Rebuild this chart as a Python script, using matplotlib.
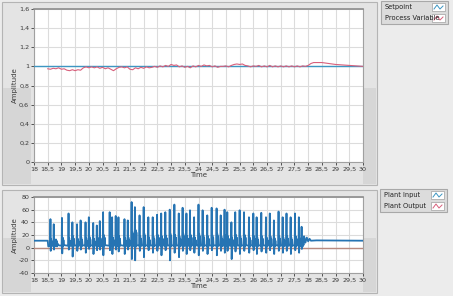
import numpy as np
import matplotlib.pyplot as plt
from matplotlib.patches import Rectangle
from matplotlib.lines import Line2D

W, H = 453, 296

# ---- data ----
setpoint_t = [18.0, 30.0]
setpoint_v = [1.0, 1.0]

pv_t = list(np.round(np.arange(18.5, 28.05, 0.1), 2)) + [28.1, 28.2, 28.5, 29.0, 29.5, 30.0]
pv_v = [0.975, 0.97, 0.98, 0.975, 0.985, 0.97, 0.975, 0.96, 0.955, 0.965,
        0.955, 0.965, 0.96, 0.985, 0.995, 0.985, 0.995, 0.985, 0.995, 0.98,
        0.99, 0.975, 0.985, 0.97, 0.955, 0.975, 0.99, 0.995, 0.985, 0.995,
        0.97, 0.965, 0.985, 0.975, 0.99, 0.98, 0.995, 0.985, 0.99, 1.0,
        0.99, 1.005, 0.995, 1.01, 1.0, 1.02, 1.01, 1.015, 0.995, 1.005,
        0.99, 1.0, 0.985, 1.005, 0.995, 1.01, 1.0, 1.015, 1.005, 1.01,
        0.995, 1.005, 0.99, 1.0, 1.0, 1.005, 0.995, 1.01, 1.02, 1.025,
        1.02, 1.025, 1.01, 1.005, 0.995, 1.005, 1.0, 1.01, 0.995, 1.005,
        0.995, 1.01, 0.995, 1.005, 0.995, 1.005, 0.995, 1.005, 0.995, 1.005,
        0.995, 1.005, 0.995, 1.005, 1.0, 1.01,
        1.03, 1.04, 1.04, 1.02, 1.01, 1.0]

# plant input spikes: time, peak, trough, ringing level
spk_t = [18.60, 18.72, 18.80, 19.02, 19.26, 19.40, 19.57, 19.70, 19.88, 20.00,
         20.16, 20.29, 20.40, 20.52, 20.76, 20.85, 20.98, 21.08, 21.30, 21.42,
         21.56, 21.68, 21.85, 22.00, 22.17, 22.33, 22.49, 22.64, 22.79, 22.95,
         23.12, 23.28, 23.42, 23.56, 23.69, 23.84, 24.00, 24.15, 24.32, 24.48,
         24.66, 24.81, 24.95, 25.05, 25.20, 25.34, 25.50, 25.66, 25.84, 26.00,
         26.12, 26.29, 26.46, 26.60, 26.75, 26.92, 27.07, 27.21, 27.36, 27.52,
         27.66, 27.76]
spk_hi = [45, 37, 13, 47, 54, 40, 37, 43, 40, 48,
          39, 35, 42, 56, 56, 48, 50, 48, 45, 43,
          72, 64, 51, 64, 48, 48, 52, 54, 56, 60,
          68, 54, 63, 54, 59, 48, 68, 59, 51, 63,
          62, 51, 60, 56, 40, 56, 59, 56, 48, 54,
          48, 55, 48, 54, 43, 57, 48, 54, 48, 54,
          48, 33]
spk_lo = [-5, -3, 5, -9, -3, -14, -5, -3, -8, -2,
          -10, -4, -3, -12, -4, -10, -3, -6, -10, -3,
          -18, -20, -5, -15, -4, -8, -5, -12, -4, -20,
          -8, -15, -5, -10, -4, -8, -12, -5, -10, -4,
          -12, -5, -8, -5, -18, -6, -10, -5, -8, -4,
          -10, -6, -8, -4, -10, -5, -8, -5, -10, -4,
          -8, -2]
spk_ring = [14, 12, 11, 16, 15, 18, 14, 16, 15, 17,
            14, 16, 15, 20, 18, 16, 17, 18, 15, 16,
            25, 28, 18, 22, 16, 18, 20, 18, 19, 22,
            20, 18, 22, 18, 20, 16, 22, 20, 18, 20,
            22, 18, 20, 18, 16, 20, 18, 20, 16, 18,
            16, 18, 16, 18, 15, 18, 16, 18, 16, 18,
            15, 14]
settle_t = [27.85, 27.90, 27.95, 28.00, 28.05, 28.10, 28.3, 30.0]
settle_v = [18, 8, 16, 10, 14, 11, 11.5, 11]

plant_out_t = [18.0, 30.0]
plant_out_v = [0.0, 0.0]

# build plant input polyline from the spike table
pin_t = [18.0, 18.5, 18.52]
pin_v = [11, 11, 2]
for t, hi, lo, rg in zip(spk_t, spk_hi, spk_lo, spk_ring):
    pin_t += [t - 0.012, t, t + 0.01, t + 0.025, t + 0.04, t + 0.055, t + 0.07]
    pin_v += [3, hi, lo, rg, 2, rg - 4, 4]
pin_t += settle_t
pin_v += settle_v


def comma(v):
    s = ('%g' % v).replace('.', ',')
    return s


fig = plt.figure(figsize=(W / 100, H / 100), dpi=100)
fig.patch.set_facecolor('#ececec')


def frect(x, y, w, h, fc, ec='none', lw=0.8, z=0):
    r = Rectangle((x / W, 1 - (y + h) / H), w / W, h / H, transform=fig.transFigure,
                  facecolor=fc, edgecolor=ec, linewidth=lw, zorder=z)
    fig.add_artist(r)


# panels
frect(2, 2, 375, 183, '#e4e4e4', '#b4b4b4')
frect(3, 88, 28, 96, '#d6d6d6')
frect(363, 88, 13, 96, '#d6d6d6')
frect(2, 190, 375, 103, '#e4e4e4', '#b4b4b4')
frect(3, 238, 28, 54, '#d6d6d6')
frect(363, 238, 13, 54, '#d6d6d6')

xt = np.arange(18, 30.01, 0.5)
grid_c = '#dcdcdc'
txt_c = '#3a3a3a'


def style(ax, yt, ylim):
    ax.set_xlim(18, 30)
    ax.set_ylim(*ylim)
    ax.set_xticks(xt)
    ax.set_xticklabels([comma(v) for v in xt])
    ax.set_yticks(yt)
    ax.set_yticklabels([comma(round(v, 1)) for v in yt])
    ax.grid(True, color=grid_c, linewidth=0.8)
    ax.set_axisbelow(True)
    ax.tick_params(labelsize=4.6, colors=txt_c, length=2, width=0.6, pad=1.5)
    for s in ax.spines.values():
        s.set_color('#a0a0a0')
        s.set_linewidth(0.8)
    ax.spines['top'].set_color('#8c8c8c')
    ax.spines['top'].set_linewidth(1.2)
    ax.set_xlabel('Time', fontsize=5, color=txt_c, labelpad=0)
    ax.set_ylabel('Amplitude', fontsize=5, color=txt_c, labelpad=1)


ax1 = fig.add_axes([34 / W, 1 - 162 / H, 329 / W, 153 / H])
ax1.plot(setpoint_t, setpoint_v, color='#3d96c2', lw=1.0, zorder=3)
ax1.plot(pv_t, pv_v, color='#d8607c', lw=0.8, zorder=4)
style(ax1, np.arange(0, 1.61, 0.2), (0, 1.6))

ax2 = fig.add_axes([34 / W, 1 - 273 / H, 329 / W, 76 / H])
ax2.plot(plant_out_t, plant_out_v, color='#b88a80', lw=1.0, zorder=3)
ax2.plot(pin_t, pin_v, color='#2674b3', lw=1.3, zorder=4)
style(ax2, np.arange(-40, 81, 20), (-40, 80))


def legend(x, y, labels, colors):
    frect(x, y, 67, 23, '#dcdcdc', '#a8a8a8')
    for i, (lab, c) in enumerate(zip(labels, colors)):
        yy = y + 6 + i * 11
        fig.text((x + 4) / W, 1 - yy / H, lab, fontsize=4.8, color='#222222', va='center')
        frect(x + 51, yy - 4, 13, 8, 'white', '#a0a0a0', lw=0.5, z=2)
        px = np.array([x + 53, x + 56, x + 59, x + 62]) / W
        py = 1 - np.array([yy + 2, yy - 2, yy + 2, yy - 1]) / H
        fig.add_artist(Line2D(px, py, transform=fig.transFigure, color=c, lw=0.7, zorder=3))


legend(381, 1, ['Setpoint', 'Process Variable'], ['#3d96c2', '#d8607c'])
legend(380, 189, ['Plant Input', 'Plant Output'], ['#3d96c2', '#d8607c'])

fig.savefig('out.png', dpi=100, facecolor=fig.get_facecolor())
